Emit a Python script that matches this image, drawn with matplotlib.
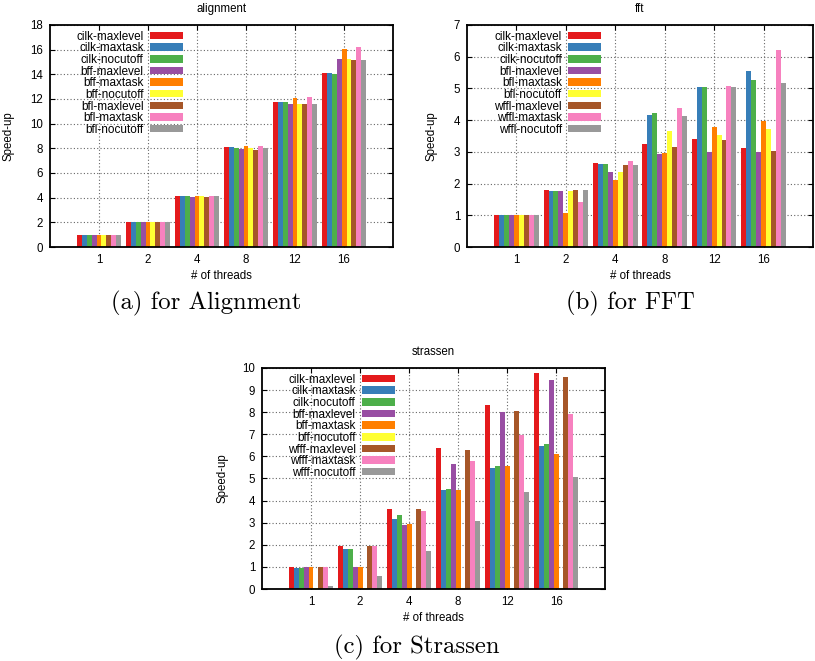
import matplotlib
matplotlib.use("Agg")
from matplotlib import pyplot as plt
import numpy as np

plt.rcParams['font.family'] = ['Liberation Sans', 'DejaVu Sans']

threads = ["1", "2", "4", "8", "12", "16"]
colors = ["#e41a1c", "#377eb8", "#4daf4a", "#984ea3", "#ff7f00",
          "#ffff33", "#a65628", "#f781bf", "#999999"]

# alignment
align_labels = ["cilk-maxlevel", "cilk-maxtask", "cilk-nocutoff",
                "bff-maxlevel", "bff-maxtask", "bff-nocutoff",
                "bfl-maxlevel", "bfl-maxtask", "bfl-nocutoff"]
align_values = [
    [1.0, 2.05, 4.15, 8.10, 11.77, 14.11],
    [1.0, 2.05, 4.10, 8.10, 11.77, 14.11],
    [1.0, 2.05, 4.10, 8.05, 11.77, 14.03],
    [1.0, 2.05, 4.05, 7.93, 11.60, 15.25],
    [1.0, 2.05, 4.10, 8.15, 12.10, 16.03],
    [1.0, 2.05, 4.10, 8.00, 11.60, 15.25],
    [1.0, 2.05, 4.05, 7.90, 11.63, 15.17],
    [1.0, 2.05, 4.12, 8.20, 12.17, 16.19],
    [1.0, 2.05, 4.10, 8.00, 11.63, 15.17],
]

# fft
fft_labels = ["cilk-maxlevel", "cilk-maxtask", "cilk-nocutoff",
              "bfl-maxlevel", "bfl-maxtask", "bfl-nocutoff",
              "wffl-maxlevel", "wffl-maxtask", "wffl-nocutoff"]
fft_values = [
    [1.0, 1.79, 2.64, 3.25, 3.40, 3.13],
    [1.0, 1.77, 2.61, 4.15, 5.03, 5.54],
    [1.0, 1.78, 2.61, 4.23, 5.03, 5.26],
    [1.0, 1.78, 2.38, 2.93, 2.98, 2.99],
    [1.02, 1.07, 2.12, 2.95, 3.79, 3.98],
    [1.0, 1.77, 2.38, 3.66, 3.52, 3.73],
    [1.0, 1.79, 2.60, 3.14, 3.38, 3.03],
    [1.0, 1.43, 2.72, 4.37, 5.08, 6.22],
    [1.0, 1.79, 2.57, 4.14, 5.03, 5.16],
]

# strassen
str_labels = ["cilk-maxlevel", "cilk-maxtask", "cilk-nocutoff",
              "bff-maxlevel", "bff-maxtask", "bff-nocutoff",
              "wfff-maxlevel", "wfff-maxtask", "wfff-nocutoff"]
str_values = [
    [1.00, 1.93, 3.63, 6.36, 8.34, 9.77],
    [0.94, 1.80, 3.15, 4.48, 5.46, 6.49],
    [0.95, 1.80, 3.35, 4.54, 5.57, 6.58],
    [0.99, 0.98, 2.91, 5.67, 7.99, 9.47],
    [0.99, 0.98, 2.96, 4.46, 5.55, 6.09],
    [0.05, 0.05, 0.05, 0.05, 0.05, 0.05],
    [1.00, 1.93, 3.62, 6.27, 8.04, 9.58],
    [1.00, 1.96, 3.54, 5.78, 6.95, 7.90],
    [0.14, 0.59, 1.73, 3.09, 4.39, 5.07],
]

FS = 8.3


def make_graph(ax, title, labels, values, ymax, ystep, ylab_x):
    x = np.arange(1, len(threads) + 1)
    for j, (lab, vals) in enumerate(zip(labels, values)):
        ax.bar(x + (j - 4) * 0.1, vals, width=0.1, color=colors[j],
               label=lab, zorder=2, linewidth=0)
    ax.set_xlim(0, 7)
    ax.set_ylim(0, ymax)
    ax.set_xticks(x)
    ax.set_xticklabels(threads)
    ax.set_yticks(np.arange(0, ymax + 0.01, ystep))
    ax.tick_params(direction="in", top=True, right=True, length=3.5,
                   width=0.8, labelsize=FS, pad=5)
    ax.grid(True, linestyle=(0, (1, 2)), color="0.4", linewidth=0.8, zorder=0)
    ax.set_axisbelow(True)
    for s in ax.spines.values():
        s.set_linewidth(1.3)
    ax.set_title(title, fontsize=FS, pad=9)
    ax.set_xlabel("# of threads", fontsize=FS)
    ax.xaxis.set_label_coords(0.5, -0.105)
    ax.set_ylabel("Speed-up", fontsize=FS)
    ax.yaxis.set_label_coords(ylab_x, 0.5)
    ax.legend(loc="upper right", bbox_to_anchor=(0.397, 0.99), frameon=False,
              markerfirst=False, fontsize=8.5, handlelength=2.8,
              handleheight=0.6, labelspacing=-0.03, handletextpad=0.5,
              borderpad=0.3, borderaxespad=0.0)


fig = plt.figure(figsize=(8.15, 6.61), dpi=100)
ax1 = fig.add_axes([0.0613, 0.6263, 0.421, 0.336])
ax2 = fig.add_axes([0.573, 0.6263, 0.4245, 0.336])
ax3 = fig.add_axes([0.3215, 0.1089, 0.421, 0.3344])

make_graph(ax1, "alignment", align_labels, align_values, 18, 2, -0.102)
make_graph(ax2, "fft", fft_labels, fft_values, 7, 1, -0.084)
make_graph(ax3, "strassen", str_labels, str_values, 10, 1, -0.099)

cap = dict(fontsize=17.8, family="cmr10", ha="center", va="center")
fig.text(206 / 815, 1 - 303 / 661, "(a) for Alignment", **cap)
fig.text(630 / 815, 1 - 303 / 661, "(b) for FFT", **cap)
fig.text(417 / 815, 1 - 647 / 661, "(c) for Strassen", **cap)

fig.savefig("out.png", dpi=100)
